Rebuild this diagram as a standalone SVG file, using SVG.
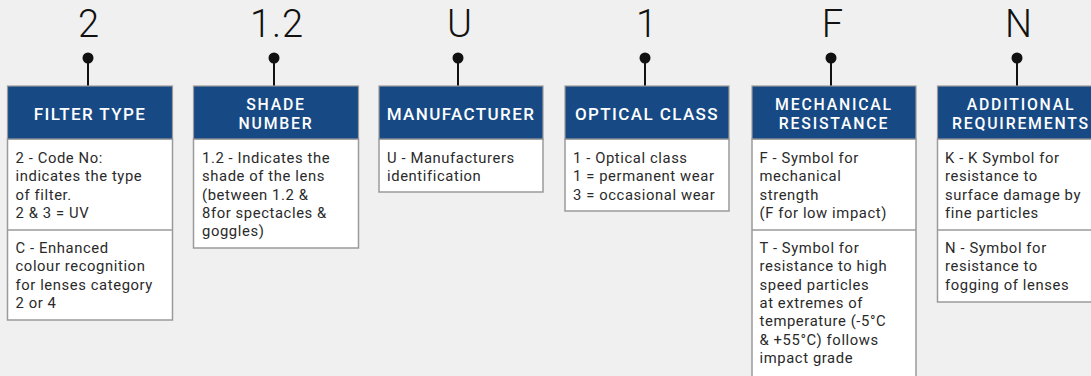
<svg xmlns="http://www.w3.org/2000/svg" width="1091" height="376" viewBox="0 0 1091 376">
<style>
.bg{fill:#eff0ef}
.hd{fill:#174a85;stroke:#9a9a9a;stroke-width:1.2}
.bd{fill:#ffffff;stroke:#9a9a9a;stroke-width:1.5}
.num{font-family:Roboto,"Liberation Sans",sans-serif;font-weight:300;font-size:38px;fill:#111;text-anchor:middle;letter-spacing:1px}
.ht{font-family:Roboto,"Liberation Sans",sans-serif;font-weight:500;font-size:17px;fill:#fff;text-anchor:middle;letter-spacing:1.4px}
.h2{font-family:Roboto,"Liberation Sans",sans-serif;font-weight:500;font-size:15.8px;fill:#fff;text-anchor:middle;letter-spacing:1.8px}
.tx{font-family:Roboto,"Liberation Sans",sans-serif;font-size:14.8px;fill:#2a2a2a;letter-spacing:0.6px}
.ln{stroke:#111;stroke-width:2;fill:none}
.dt{fill:#111}
.dv{stroke:#9a9a9a;stroke-width:1.5}
</style>
<rect class="bg" x="0" y="0" width="1091" height="376"/>
<g id="connectors">
<line class="ln" x1="88" y1="58" x2="88" y2="86"/><circle class="dt" cx="88" cy="58" r="5.5"/>
<line class="ln" x1="274" y1="58" x2="274" y2="86"/><circle class="dt" cx="274" cy="58" r="5.5"/>
<line class="ln" x1="458" y1="58" x2="458" y2="86"/><circle class="dt" cx="458" cy="58" r="5.5"/>
<line class="ln" x1="645" y1="58" x2="645" y2="86"/><circle class="dt" cx="645" cy="58" r="5.5"/>
<line class="ln" x1="831" y1="58" x2="831" y2="86"/><circle class="dt" cx="831" cy="58" r="5.5"/>
<line class="ln" x1="1017" y1="58" x2="1017" y2="86"/><circle class="dt" cx="1017" cy="58" r="5.5"/>
</g>
<g id="filter-type">
<text class="num" x="89" y="37">2</text>
<rect class="bd" x="7.5" y="139" width="165" height="181"/>
<line class="dv" x1="7.5" y1="230" x2="172.5" y2="230"/>
<rect class="hd" x="7.5" y="86" width="165" height="53"/>
<text class="ht" x="90" y="120">FILTER TYPE</text>
<text class="tx" x="15.5" y="163">2 - Code No:</text>
<text class="tx" x="15.5" y="181.3">indicates the type</text>
<text class="tx" x="15.5" y="199.6">of filter.</text>
<text class="tx" x="15.5" y="218">2 &amp; 3 = UV</text>
<text class="tx" x="15.5" y="253">C - Enhanced</text>
<text class="tx" x="15.5" y="271.3">colour recognition</text>
<text class="tx" x="15.5" y="289.6">for lenses category</text>
<text class="tx" x="15.5" y="308">2 or 4</text>
</g>
<g id="shade-number">
<text class="num" x="277" y="37">1.2</text>
<rect class="bd" x="193.5" y="139" width="165" height="109"/>
<rect class="hd" x="193.5" y="86" width="165" height="53"/>
<text class="h2" x="276" y="110">SHADE</text>
<text class="h2" x="276" y="128.7">NUMBER</text>
<text class="tx" x="202" y="163">1.2 - Indicates the</text>
<text class="tx" x="202" y="181.3">shade of the lens</text>
<text class="tx" x="202" y="199.6">(between 1.2 &amp;</text>
<text class="tx" x="202" y="218">8for spectacles &amp;</text>
<text class="tx" x="202" y="236.3">goggles)</text>
</g>
<g id="manufacturer">
<text class="num" x="460" y="37">U</text>
<rect class="bd" x="379" y="139" width="164" height="53"/>
<rect class="hd" x="379" y="86" width="164" height="53"/>
<text class="ht" x="461" y="120">MANUFACTURER</text>
<text class="tx" x="387" y="163">U - Manufacturers</text>
<text class="tx" x="387" y="181.3">identification</text>
</g>
<g id="optical-class">
<text class="num" x="647" y="37">1</text>
<rect class="bd" x="565" y="139" width="164" height="72"/>
<rect class="hd" x="565" y="86" width="164" height="53"/>
<text class="ht" x="647" y="120">OPTICAL CLASS</text>
<text class="tx" x="573" y="163">1 - Optical class</text>
<text class="tx" x="573" y="181.3">1 = permanent wear</text>
<text class="tx" x="573" y="199.6">3 = occasional wear</text>
</g>
<g id="mechanical-resistance">
<text class="num" x="833" y="37">F</text>
<rect class="bd" x="752" y="139" width="164" height="241"/>
<line class="dv" x1="752" y1="230" x2="916" y2="230"/>
<rect class="hd" x="752" y="86" width="164" height="53"/>
<text class="h2" x="834" y="110">MECHANICAL</text>
<text class="h2" x="834" y="128.7">RESISTANCE</text>
<text class="tx" x="759.5" y="163">F - Symbol for</text>
<text class="tx" x="759.5" y="181.3">mechanical</text>
<text class="tx" x="759.5" y="199.6">strength</text>
<text class="tx" x="759.5" y="218">(F for low impact)</text>
<text class="tx" x="759.5" y="253">T - Symbol for</text>
<text class="tx" x="759.5" y="271.3">resistance to high</text>
<text class="tx" x="759.5" y="289.6">speed particles</text>
<text class="tx" x="759.5" y="308">at extremes of</text>
<text class="tx" x="759.5" y="326.3">temperature (-5°C</text>
<text class="tx" x="759.5" y="344.6">&amp; +55°C) follows</text>
<text class="tx" x="759.5" y="363">impact grade</text>
</g>
<g id="additional-requirements">
<text class="num" x="1019" y="37">N</text>
<rect class="bd" x="937.5" y="139" width="165" height="163"/>
<line class="dv" x1="937.5" y1="230" x2="1102" y2="230"/>
<rect class="hd" x="937.5" y="86" width="165" height="53"/>
<text class="h2" x="1021" y="110">ADDITIONAL</text>
<text class="h2" x="1021" y="128.7">REQUIREMENTS</text>
<text class="tx" x="945" y="163">K - K Symbol for</text>
<text class="tx" x="945" y="181.3">resistance to</text>
<text class="tx" x="945" y="199.6">surface damage by</text>
<text class="tx" x="945" y="218">fine particles</text>
<text class="tx" x="945" y="253">N - Symbol for</text>
<text class="tx" x="945" y="271.3">resistance to</text>
<text class="tx" x="945" y="289.6">fogging of lenses</text>
</g>
</svg>
